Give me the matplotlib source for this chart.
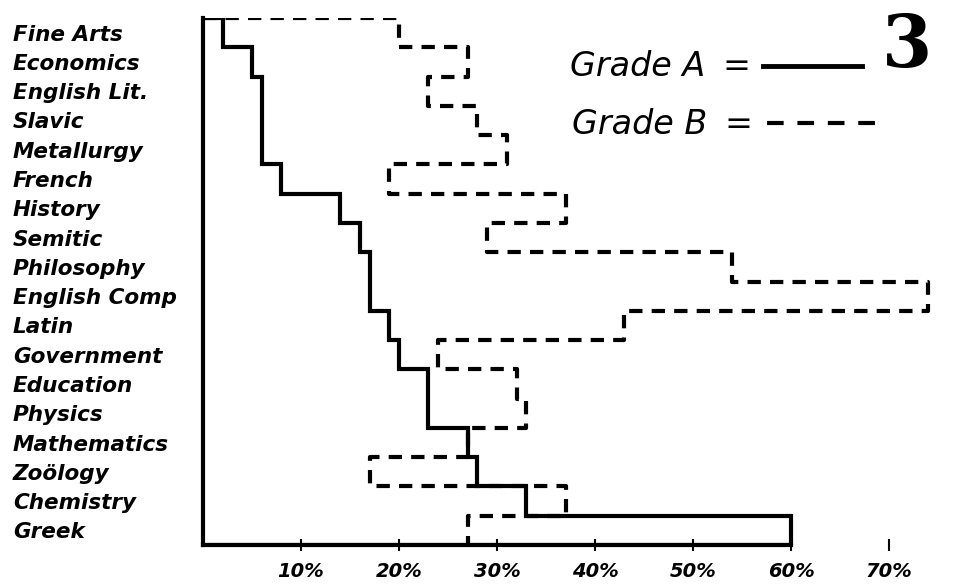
import matplotlib
matplotlib.use("Agg")
import matplotlib.pyplot as plt
import numpy as np

categories = ["Fine Arts", "Economics", "English Lit.", "Slavic", "Metallurgy",
              "French", "History", "Semitic", "Philosophy", "English Comp",
              "Latin", "Government", "Education", "Physics", "Mathematics",
              "Zoölogy", "Chemistry", "Greek"]
grade_a = [2, 5, 6, 6, 6, 8, 14, 16, 17, 17, 19, 20, 23, 23, 27, 28, 33, 60]
grade_b = [20, 27, 23, 28, 31, 19, 37, 29, 54, 74, 43, 24, 32, 33, 27, 17, 37, 27]
xticks = [10, 20, 30, 40, 50, 60, 70]
xticklabels = ["10%", "20%", "30%", "40%", "50%", "60%", "70%"]


def step_path(vals):
    xs, ys = [0], [0]
    for i, v in enumerate(vals):
        xs += [v, v]
        ys += [i, i + 1]
    return xs, ys


fig = plt.figure(figsize=(9.6, 5.88), dpi=100)
ax = fig.add_axes([203 / 960, 1 - 545 / 588, 735 / 960, 527 / 588])
ax.set_xlim(0, 75)
ax.set_ylim(len(categories), 0)

lw = 3.0
xa, ya = step_path(grade_a)
xa += [0]
ya += [len(categories)]
ax.plot(xa, ya, color="black", lw=lw, solid_joinstyle="miter", zorder=3)
xb, yb = step_path(grade_b)
ax.plot(xb, yb, color="black", lw=lw, ls=(0, (3.2, 2.2)), zorder=2)

for s in ["top", "right"]:
    ax.spines[s].set_visible(False)
ax.spines["left"].set_linewidth(lw)
ax.spines["bottom"].set_linewidth(lw)
ax.spines["bottom"].set_bounds(0, 60)

lab_font = dict(family="DejaVu Sans", style="italic", weight="bold", size=15.5)
tick_font = dict(family="DejaVu Sans", style="italic", weight="bold", size=14)
ax.set_yticks(np.arange(len(categories)) + 0.5)
ax.set_yticklabels(categories, ha="left", **lab_font)
ax.tick_params(axis="y", length=0, pad=190 * 0.72)
ax.set_xticks(xticks)
ax.set_xticklabels(xticklabels, **tick_font)
ax.tick_params(axis="x", direction="inout", length=8, width=1.5, pad=8)

leg_font = dict(family="DejaVu Sans", style="italic", size=24)
fig.text(570 / 960, 1 - 66 / 588, "Grade A", ha="left", va="center", **leg_font)
fig.text(722 / 960, 1 - 66 / 588, "=", ha="left", va="center", **leg_font)
fig.text(572 / 960, 1 - 124 / 588, "Grade B", ha="left", va="center", **leg_font)
fig.text(724 / 960, 1 - 124 / 588, "=", ha="left", va="center", **leg_font)
fig.add_artist(plt.Line2D([763 / 960, 862 / 960], [1 - 66 / 588, 1 - 66 / 588],
                          transform=fig.transFigure, color="black", lw=3.5))
fig.add_artist(plt.Line2D([767 / 960, 884 / 960], [1 - 123 / 588, 1 - 123 / 588],
                          transform=fig.transFigure, color="black", lw=3.0,
                          ls=(0, (4, 3.3))))
fig.text(907 / 960, 1 - 46 / 588, "3", ha="center", va="center",
         family="DejaVu Serif", weight="bold", size=52)

fig.savefig("out.png", dpi=100)
